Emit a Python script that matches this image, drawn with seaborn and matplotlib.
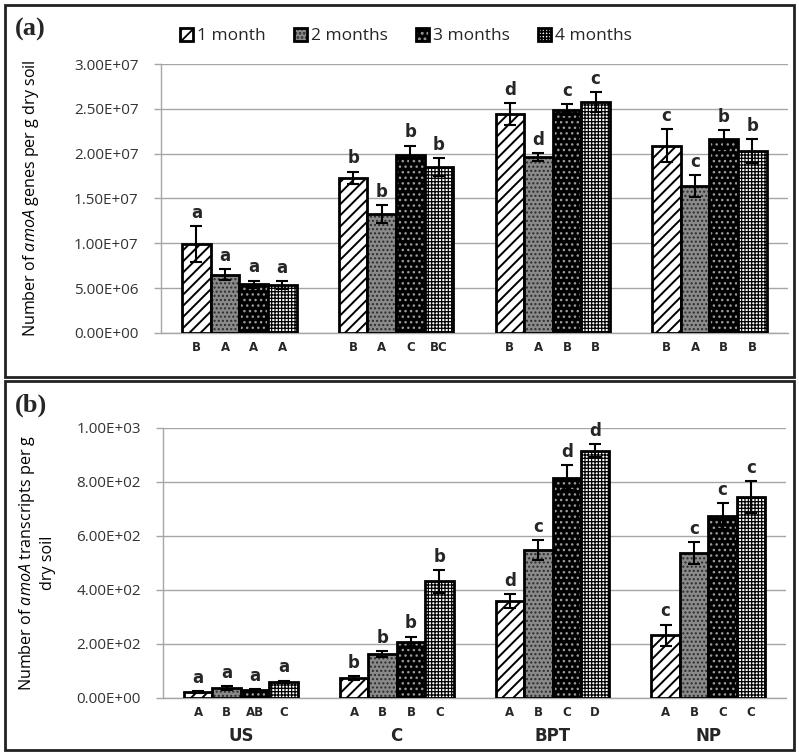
import matplotlib
matplotlib.use("Agg")
import matplotlib.pyplot as plt
import matplotlib.patheffects as pe
import pandas as pd
import seaborn as sns
from matplotlib.patches import Rectangle

groups = ["US", "C", "BPT", "NP"]
months = ["1 month", "2 months", "3 months", "4 months"]

# (a) amoA gene copies per g dry soil
genes_m1 = [9.96e6, 1.73e7, 2.44e7, 2.09e7]
genes_m2 = [6.5e6, 1.33e7, 1.96e7, 1.64e7]
genes_m3 = [5.45e6, 1.99e7, 2.49e7, 2.16e7]
genes_m4 = [5.3e6, 1.85e7, 2.58e7, 2.03e7]
genes_err_m1 = [2.0e6, 7.0e5, 1.2e6, 1.8e6]
genes_err_m2 = [6.0e5, 1.0e6, 4.5e5, 1.25e6]
genes_err_m3 = [4.0e5, 1.0e6, 6.0e5, 1.05e6]
genes_err_m4 = [4.5e5, 1.0e6, 1.1e6, 1.35e6]
genes_top = [["a", "b", "d", "c"], ["a", "b", "d", "c"],
             ["a", "b", "c", "b"], ["a", "b", "c", "b"]]
genes_bottom = [["B", "B", "B", "B"], ["A", "A", "A", "A"],
                ["A", "C", "B", "B"], ["A", "BC", "B", "B"]]

# (b) amoA transcripts per g dry soil
trans_m1 = [20, 72, 357, 230]
trans_m2 = [35, 161, 546, 534]
trans_m3 = [28, 204, 815, 671]
trans_m4 = [58, 430, 914, 744]
trans_err_m1 = [4, 7, 25, 40]
trans_err_m2 = [6, 10, 38, 41]
trans_err_m3 = [4, 22, 47, 48]
trans_err_m4 = [5, 43, 24, 59]
trans_top = [["a", "b", "d", "c"], ["a", "b", "c", "c"],
             ["a", "b", "d", "c"], ["a", "b", "d", "c"]]
trans_bottom = [["A", "A", "A", "A"], ["B", "B", "B", "B"],
                ["AB", "B", "C", "C"], ["C", "C", "D", "C"]]


def long_table(cols):
    rows = []
    for m, vals in zip(months, cols):
        for g, v in zip(groups, vals):
            rows.append({"group": g, "month": m, "value": v})
    return pd.DataFrame(rows)


sns.set_theme(style="white")
plt.rcParams["font.family"] = ["Open Sans", "DejaVu Sans"]
plt.rcParams["mathtext.fontset"] = "custom"
plt.rcParams["mathtext.rm"] = "Open Sans"
plt.rcParams["mathtext.it"] = "Open Sans:italic"
plt.rcParams["hatch.linewidth"] = 1.3

faces = ["white", "#8a8a8a", "black", "white"]
hatches = ["///", "....", "...", "+++++"]
# hatch colour follows the edge colour; the black outline is then drawn by a stroke effect
hatch_cols = ["black", "#2a2a2a", "#9a9a9a", "black"]
hatch_lw = [1.4, 1.0, 1.0, 0.9]

fig = plt.figure(figsize=(7.99, 7.54), dpi=100)
ax_a = fig.add_axes([0.2015, 0.5584, 0.7845, 0.3567])
ax_b = fig.add_axes([0.204, 0.0749, 0.780, 0.3579])

panels = [
    (ax_a, [genes_m1, genes_m2, genes_m3, genes_m4],
     [genes_err_m1, genes_err_m2, genes_err_m3, genes_err_m4],
     genes_top, genes_bottom, 3.0e7, 5.0e6,
     "Number of $\\mathit{amoA}$ genes per g dry soil", -0.191),
    (ax_b, [trans_m1, trans_m2, trans_m3, trans_m4],
     [trans_err_m1, trans_err_m2, trans_err_m3, trans_err_m4],
     trans_top, trans_bottom, 1000, 200,
     "Number of $\\mathit{amoA}$ transcripts per g\ndry soil", -0.172),
]

bar_sets = {}
for ax, vals, errs, top_txt, bot_txt, ymax, ystep, ylab, labx in panels:
    df = long_table(vals)
    sns.barplot(data=df, x="group", y="value", hue="month", order=groups,
                hue_order=months, errorbar=None, width=0.73, gap=0,
                legend=False, ax=ax, zorder=3)
    bars = list(ax.containers)
    bar_sets[ax] = bars
    for i, cont in enumerate(bars):
        xs = []
        for j, p in enumerate(cont.patches):
            p.set_facecolor(faces[i])
            p.set_edgecolor(hatch_cols[i])
            p.set_linewidth(2)
            p.set_hatch(hatches[i])
            if hasattr(p, "set_hatch_linewidth"):
                p.set_hatch_linewidth(hatch_lw[i])
            p.set_path_effects([pe.Stroke(foreground="black")])
            xc = p.get_x() + p.get_width() / 2
            xs.append(xc)
            ax.annotate(top_txt[i][j], (xc, vals[i][j] + errs[i][j]),
                        xytext=(0, 3), textcoords="offset points",
                        ha="center", va="bottom", fontsize=12,
                        fontweight="bold", family="DejaVu Sans")
            ax.annotate(bot_txt[i][j], (xc, 0),
                        xycoords=("data", "axes fraction"),
                        xytext=(0, -10.5), textcoords="offset points",
                        ha="center", va="center", fontsize=8.5,
                        fontweight="bold", family="DejaVu Sans")
        ax.errorbar(xs, vals[i], yerr=errs[i], fmt="none", ecolor="black",
                    elinewidth=1.5, capsize=4, capthick=1.5, zorder=4)

    ax.set_xlim(-0.5, 3.5)
    ax.set_ylim(0, ymax)
    ticks = [k * ystep for k in range(int(round(ymax / ystep)) + 1)]
    ax.set_yticks(ticks)
    ax.set_yticklabels([f"{t:.2E}" for t in ticks])
    ax.yaxis.grid(True, color="#a6a6a6", linewidth=1)
    ax.set_axisbelow(True)
    for s in ["top", "right"]:
        ax.spines[s].set_visible(False)
    for s in ["left", "bottom"]:
        ax.spines[s].set_color("#a6a6a6")
        ax.spines[s].set_linewidth(1)
    ax.tick_params(axis="y", length=5, width=1, color="#a6a6a6",
                   pad=11, labelsize=11, labelcolor="#333333", left=True)
    ax.tick_params(axis="x", length=0)
    ax.set_xlabel("")
    ax.set_ylabel(ylab, fontsize=11.6, color="black", linespacing=1.25)
    ax.yaxis.set_label_coords(labx, 0.5)

ax_a.set_xticklabels([])
ax_b.tick_params(axis="x", pad=21)
for t in ax_b.get_xticklabels():
    t.set_fontweight("bold")
    t.set_fontsize(12)
    t.set_family("DejaVu Sans")

fig.legend(bar_sets[ax_a], months, loc="center", bbox_to_anchor=(0.508, 0.952),
           ncol=4, frameon=False, fontsize=12.5, handlelength=0.75,
           handleheight=0.75, handletextpad=0.25, columnspacing=1.6)

fig.add_artist(Rectangle((5 / 799, 1 - 377 / 754), 789 / 799, 372 / 754,
                         transform=fig.transFigure, fill=False,
                         edgecolor="#222222", linewidth=2))
fig.add_artist(Rectangle((5 / 799, 1 - 750 / 754), 789 / 799, 369 / 754,
                         transform=fig.transFigure, fill=False,
                         edgecolor="#222222", linewidth=2))
fig.text(15 / 799, 1 - 29 / 754, "(a)", fontsize=19, fontweight="bold",
         family="Liberation Serif", va="center", ha="left")
fig.text(15 / 799, 1 - 405 / 754, "(b)", fontsize=19, fontweight="bold",
         family="Liberation Serif", va="center", ha="left")

fig.savefig("out.png", dpi=100)
